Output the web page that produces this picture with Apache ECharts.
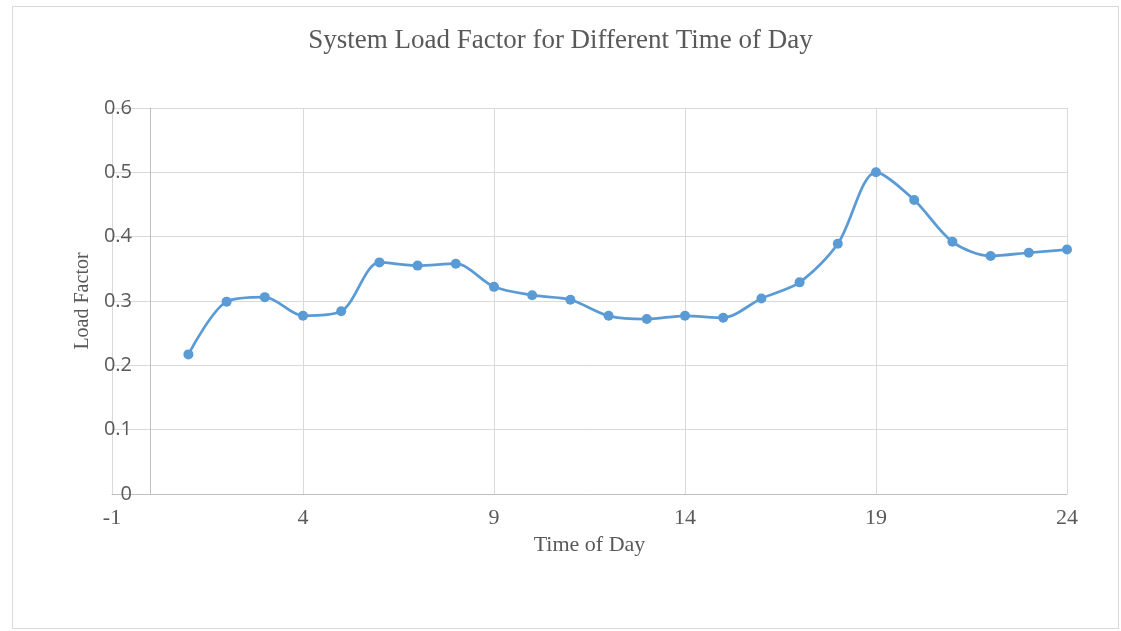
<!DOCTYPE html>
<html>
<head>
<meta charset="utf-8">
<script src="https://cdn.jsdelivr.net/npm/echarts@6/dist/echarts.min.js"></script>
<style>html,body{margin:0;padding:0;background:#fff}#c{width:1121px;height:631px}</style>
</head>
<body>
<div id="c"></div>
<script>
var hours = [1,2,3,4,5,6,7,8,9,10,11,12,13,14,15,16,17,18,19,20,21,22,23,24];
var loadFactor = [0.217,0.299,0.306,0.277,0.284,0.360,0.355,0.358,0.322,0.309,0.302,0.277,0.272,0.277,0.274,0.304,0.329,0.389,0.500,0.457,0.392,0.370,0.375,0.380];
var xTicks = [-1,4,9,14,19,24];
var yTicks = [0,0.1,0.2,0.3,0.4,0.5,0.6];

var chart = echarts.init(document.getElementById('c'));
chart.setOption({
  backgroundColor: '#fff',
  animation: false,
  graphic: [{
    type: 'rect', shape: {x: 12.5, y: 6.5, width: 1106, height: 622},
    style: {fill: 'none', stroke: '#d9d9d9', lineWidth: 1}, silent: true, z: -1
  }],
  title: {
    text: 'System Load Factor for Different Time of Day',
    left: 'center', top: 22,
    textStyle: {fontFamily: 'Liberation Serif', fontSize: 27, fontWeight: 'normal', color: '#595959'}
  },
  grid: {left: 112, right: 54, top: 108, bottom: 137, containLabel: false},
  xAxis: {
    type: 'value', min: xTicks[0], max: xTicks[xTicks.length-1], interval: 5,
    name: 'Time of Day', nameLocation: 'middle', nameGap: 40,
    nameTextStyle: {fontFamily: 'Liberation Serif', fontSize: 22, color: '#595959'},
    axisLine: {show: true, onZero: true, lineStyle: {color: '#bfbfbf', width: 1}},
    axisTick: {show: false},
    axisLabel: {margin: 13, fontFamily: 'Liberation Serif', fontSize: 22, color: '#595959'},
    splitLine: {show: true, lineStyle: {color: '#d9d9d9', width: 1}}
  },
  yAxis: {
    type: 'value', min: yTicks[0], max: yTicks[yTicks.length-1], interval: 0.1,
    name: 'Load Factor', nameLocation: 'middle', nameGap: 15,
    nameTextStyle: {fontFamily: 'Liberation Serif', fontSize: 20, color: '#595959'},
    axisLine: {show: true, onZero: true, lineStyle: {color: '#bfbfbf', width: 1}},
    axisTick: {show: false},
    axisLabel: {margin: -20, fontFamily: 'Open Sans', fontSize: 20, color: '#595959',
      formatter: function(v){ return String(+v.toFixed(1)); }},
    splitLine: {show: true, lineStyle: {color: '#d9d9d9', width: 1}}
  },
  series: [{
    type: 'line',
    data: hours.map(function(h, i){ return [h, loadFactor[i]]; }),
    smooth: 0.3,
    symbol: 'circle', symbolSize: 10,
    lineStyle: {color: '#5b9bd5', width: 2.75},
    itemStyle: {color: '#5b9bd5'}
  }]
});
</script>
</body>
</html>
